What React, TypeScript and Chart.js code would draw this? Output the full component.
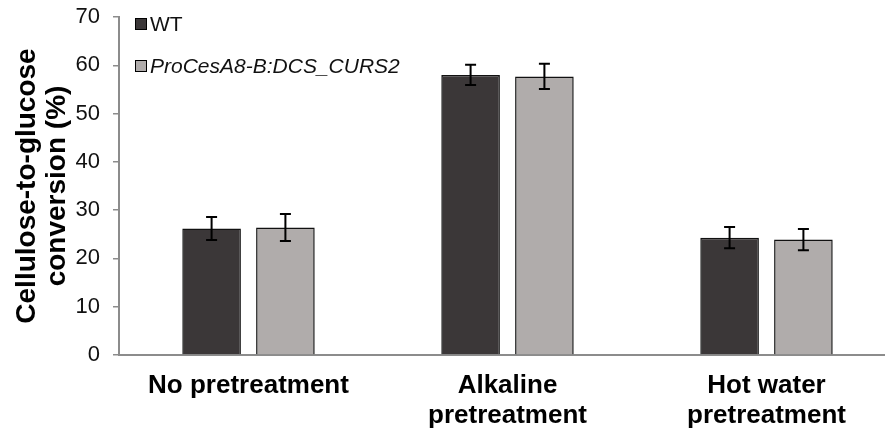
import React, { useEffect, useRef } from "react";
import { Chart, registerables } from "chart.js";

Chart.register(...registerables);

const categories: (string | string[])[] = [
  "No pretreatment",
  ["Alkaline", "pretreatment"],
  ["Hot water", "pretreatment"],
];
const seriesNames = ["WT", "ProCesA8-B:DCS_CURS2"];
const wtValues = [26.2, 58.0, 24.3];
const wtErrors = [2.4, 2.1, 2.2];
const mutantValues = [26.4, 57.7, 23.9];
const mutantErrors = [2.8, 2.6, 2.2];
const yMin = 0;
const yMax = 70;
const yStep = 10;

const FONT = "'Liberation Sans', Arial, sans-serif";
const DARK = "#3b3738";
const LIGHT = "#b0acab";
const AXIS = "#8c8c8c";

const errorSets = [wtErrors, mutantErrors];

const errorBarPlugin = {
  id: "errorBars",
  afterDatasetsDraw(chart: any) {
    const ctx = chart.ctx;
    const y = chart.scales.y;
    chart.data.datasets.forEach((ds: any, di: number) => {
      const meta = chart.getDatasetMeta(di);
      meta.data.forEach((bar: any, i: number) => {
        const v = ds.data[i];
        const e = errorSets[di][i];
        const top = y.getPixelForValue(v + e);
        const bot = y.getPixelForValue(v - e);
        const cap = 5.5;
        ctx.save();
        ctx.strokeStyle = "#000";
        ctx.lineWidth = 2;
        ctx.beginPath();
        ctx.moveTo(bar.x, top);
        ctx.lineTo(bar.x, bot);
        ctx.moveTo(bar.x - cap, top);
        ctx.lineTo(bar.x + cap, top);
        ctx.moveTo(bar.x - cap, bot);
        ctx.lineTo(bar.x + cap, bot);
        ctx.stroke();
        ctx.restore();
      });
    });
  },
};

const legendPlugin = {
  id: "insideLegend",
  afterDraw(chart: any) {
    const ctx = chart.ctx;
    const area = chart.chartArea;
    const x0 = area.left + 16;
    const rows = [area.top + 7, area.top + 49];
    chart.data.datasets.forEach((ds: any, di: number) => {
      const cy = rows[di];
      ctx.save();
      ctx.fillStyle = ds.backgroundColor;
      ctx.fillRect(x0, cy - 6, 12, 12);
      ctx.strokeStyle = "#000";
      ctx.lineWidth = 1;
      ctx.strokeRect(x0 + 0.5, cy - 5.5, 11, 11);
      ctx.fillStyle = "#111";
      ctx.textBaseline = "middle";
      ctx.textAlign = "left";
      ctx.font = (di === 1 ? "italic " : "") + "21px " + FONT;
      ctx.fillText(ds.label, x0 + 15, cy + 1);
      ctx.restore();
    });
  },
};

const zeroPad = (s: any) => {
  s.paddingTop = 0;
  s.paddingBottom = 0;
  s.paddingLeft = 0;
  s.paddingRight = 0;
};

export default function App() {
  const canvasRef = useRef<HTMLCanvasElement | null>(null);

  useEffect(() => {
    if (!canvasRef.current) return;
    const chart = new Chart(canvasRef.current, {
      type: "bar",
      data: {
        labels: categories as any,
        datasets: [
          {
            label: seriesNames[0],
            data: wtValues,
            backgroundColor: DARK,
            borderColor: "#111",
            borderWidth: 1.5,
            categoryPercentage: 0.57,
            barPercentage: 0.794,
          },
          {
            label: seriesNames[1],
            data: mutantValues,
            backgroundColor: LIGHT,
            borderColor: "#111",
            borderWidth: 1.5,
            categoryPercentage: 0.57,
            barPercentage: 0.794,
          },
        ],
      },
      options: {
        responsive: false,
        maintainAspectRatio: false,
        animation: false,
        layout: { padding: { top: 17, left: 0, right: 0, bottom: 0 } },
        plugins: {
          legend: { display: false },
          tooltip: { enabled: false },
        },
        scales: {
          x: {
            offset: true,
            grid: { display: false },
            border: { display: true, color: AXIS, width: 2 },
            ticks: {
              autoSkip: false,
              maxRotation: 0,
              minRotation: 0,
              padding: 8,
              color: "#000",
              font: { family: FONT, size: 26, weight: "bold", lineHeight: 1.15 },
            },
            afterFit: (s: any) => {
              s.height = 77;
              zeroPad(s);
            },
          },
          y: {
            min: yMin,
            max: yMax,
            ticks: {
              stepSize: yStep,
              padding: 13,
              color: "#111",
              font: { family: FONT, size: 22 },
            },
            grid: {
              drawOnChartArea: false,
              drawTicks: true,
              tickLength: 6,
              color: AXIS,
              lineWidth: 1.5,
            },
            border: { display: true, color: AXIS, width: 2 },
            title: {
              display: true,
              text: ["Cellulose-to-glucose", "conversion (%)"],
              color: "#000",
              font: { family: FONT, size: 28, weight: "bold", lineHeight: 30 / 28 },
              padding: { top: 12, bottom: 0 },
            },
            afterFit: (s: any) => {
              s.width = 119;
              zeroPad(s);
            },
          },
        },
      },
      plugins: [errorBarPlugin, legendPlugin],
    });
    return () => chart.destroy();
  }, []);

  return (
    <div
      style={{
        position: "absolute",
        left: 0,
        top: 0,
        width: 885,
        height: 432,
        overflow: "hidden",
        background: "#fff",
      }}
    >
      <canvas ref={canvasRef} width={896} height={432} />
    </div>
  );
}
